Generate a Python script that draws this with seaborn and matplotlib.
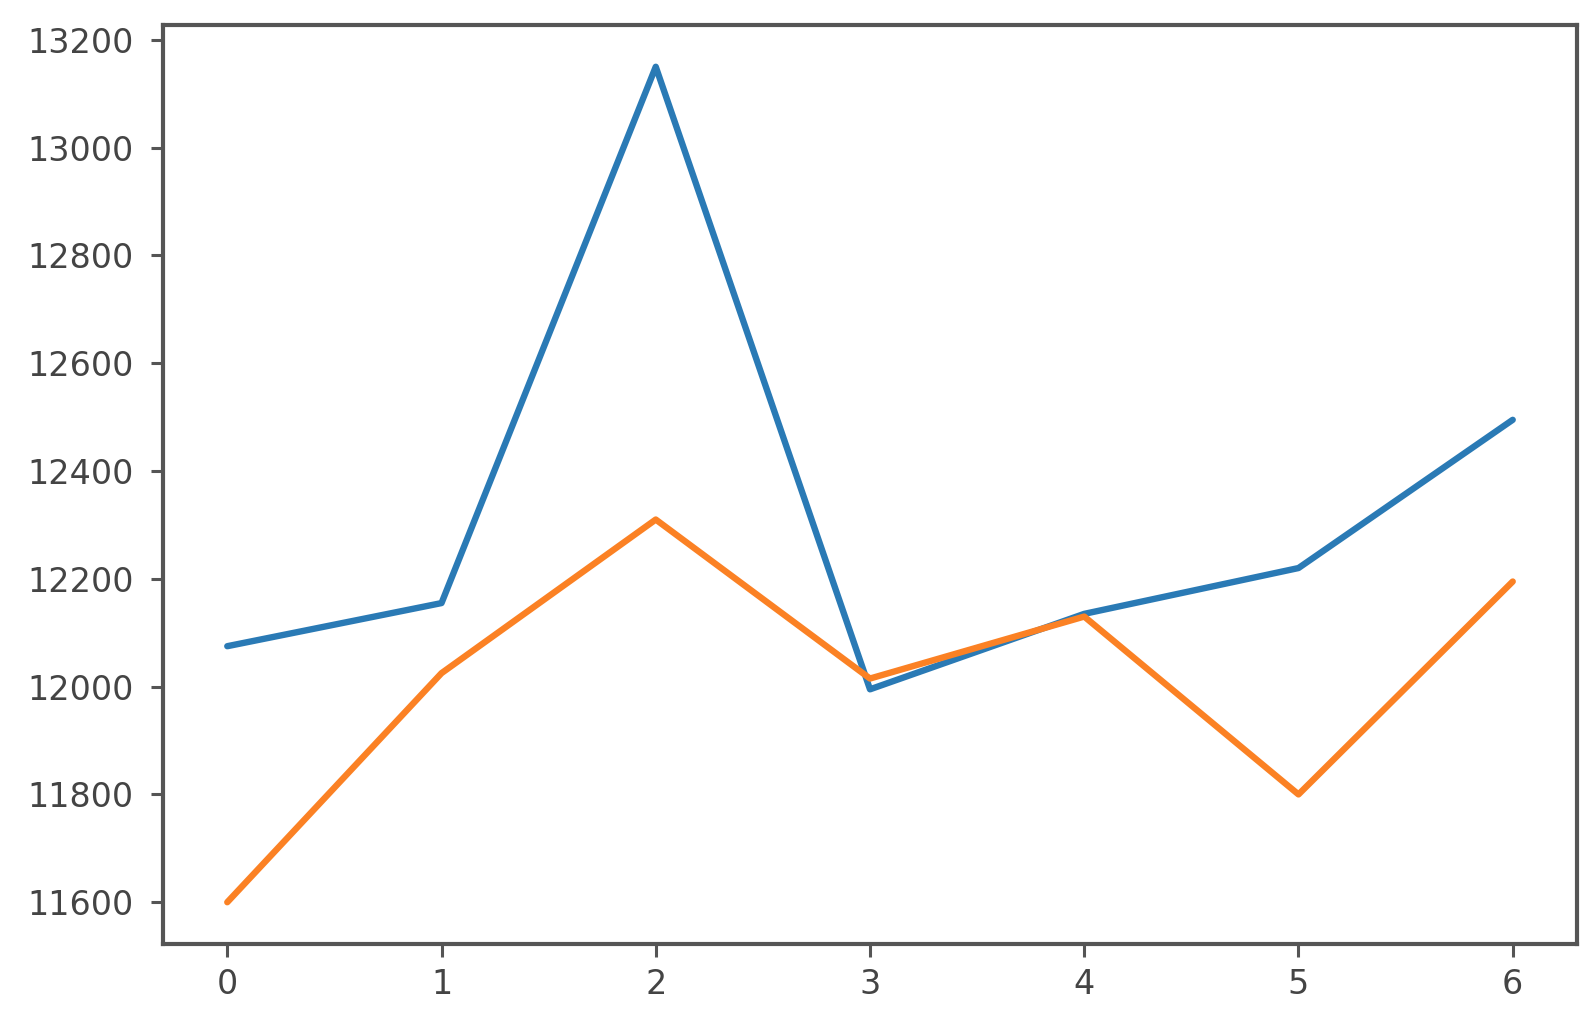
import numpy as np
import pandas as pd
import matplotlib
matplotlib.use("Agg")
import matplotlib.pyplot as plt
import seaborn as sns

# -------------------------
# Data
# -------------------------
x_vals = [0, 1, 2, 3, 4, 5, 6]
blue_vals = [12075, 12155, 13150, 11995, 12135, 12220, 12495]
orange_vals = [11600, 12025, 12310, 12015, 12130, 11800, 12195]

df = pd.DataFrame({
    "x": x_vals * 2,
    "value": blue_vals + orange_vals,
    "series": ["a"] * len(x_vals) + ["b"] * len(x_vals),
})

sns.set_style("ticks")
plt.rcParams['font.family'] = ['DejaVu Sans']

fig = plt.figure(figsize=(15.93, 10.17), dpi=100)
ax = fig.add_axes([163 / 1593, 1 - 944 / 1017, (1577 - 163) / 1593, (944 - 25) / 1017])

sns.lineplot(data=df, x="x", y="value", hue="series",
             palette=["#2a7ab5", "#fb8124"], linewidth=4.6, legend=False, ax=ax)

ax.set_yticks(np.arange(11600, 13201, 200))
ax.set_xticks(x_vals)
ax.set_xlabel("")
ax.set_ylabel("")

for side in ["top", "right", "bottom", "left"]:
    ax.spines[side].set_visible(True)
    ax.spines[side].set_linewidth(3)
    ax.spines[side].set_color("#555555")
ax.tick_params(axis="both", labelsize=24, length=9, width=2.2,
               color="#555555", labelcolor="#444444")
ax.tick_params(axis="y", pad=12)
ax.tick_params(axis="x", pad=8)

fig.savefig("out.png", dpi=100)
